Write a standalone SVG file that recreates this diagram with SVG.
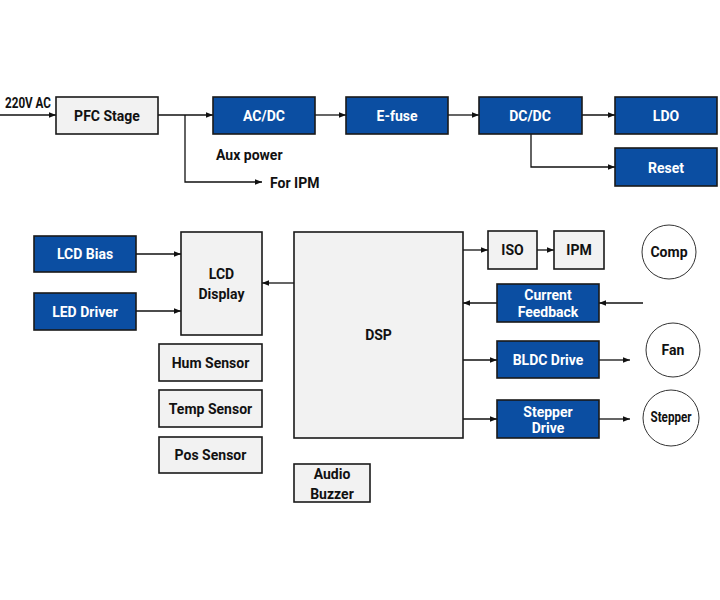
<svg xmlns="http://www.w3.org/2000/svg" width="720" height="600" viewBox="0 0 720 600">
<defs>
<marker id="ah" viewBox="0 0 10 10" refX="10" refY="5" markerWidth="7" markerHeight="7" markerUnits="userSpaceOnUse" orient="auto"><path d="M0,1 L10,5 L0,9 z" fill="#111"/></marker>
<style>
.b{fill:#0b4ea2;stroke:#1a1a1a;stroke-width:1.6}
.g{fill:#f2f2f2;stroke:#1a1a1a;stroke-width:1.6}
.c{fill:#fff;stroke:#333;stroke-width:1}
text{font-family:Roboto,"Liberation Sans",sans-serif;font-weight:bold;font-size:14px;text-anchor:middle}
.w{fill:#fff}
.k{fill:#111}
.l{text-anchor:start}
.e{fill:none;stroke:#111;stroke-width:1.3;marker-end:url(#ah)}
</style>
</defs>
<rect width="720" height="600" fill="#fff"/>
<g id="connectors">
<path class="e" d="M0,115 H56"/>
<path class="e" d="M158,115 H213"/>
<path class="e" d="M185,115 V182 H262"/>
<path class="e" d="M315,115 H346"/>
<path class="e" d="M448,115 H479"/>
<path class="e" d="M582,115 H615"/>
<path class="e" d="M531,134 V167 H615"/>
<path class="e" d="M136,254 H181"/>
<path class="e" d="M136,311 H181"/>
<path class="e" d="M294,283 H262"/>
<path class="e" d="M463,250 H488"/>
<path class="e" d="M537,250 H554"/>
<path class="e" d="M643,303 H599"/>
<path class="e" d="M497,303 H463"/>
<path class="e" d="M463,360 H497"/>
<path class="e" d="M599,360 H630"/>
<path class="e" d="M463,419 H497"/>
<path class="e" d="M599,419 H630"/>
</g>
<g id="labels">
<text class="k l" x="5" y="108" font-size="11.5" textLength="46" lengthAdjust="spacingAndGlyphs">220V AC</text>
<text class="k l" x="216" y="160">Aux power</text>
<text class="k l" x="270" y="188">For IPM</text>
</g>
<g id="pfc"><rect class="g" x="56" y="97" width="102" height="37"/><text class="k" x="107" y="120.5">PFC Stage</text></g>
<g id="acdc"><rect class="b" x="213" y="97" width="102" height="37"/><text class="w" x="264" y="120.5">AC/DC</text></g>
<g id="efuse"><rect class="b" x="346" y="97" width="102" height="37"/><text class="w" x="397" y="120.5">E-fuse</text></g>
<g id="dcdc"><rect class="b" x="479" y="97" width="103" height="37"/><text class="w" x="530" y="120.5">DC/DC</text></g>
<g id="ldo"><rect class="b" x="615" y="97" width="102" height="37"/><text class="w" x="666" y="120.5">LDO</text></g>
<g id="reset"><rect class="b" x="615" y="148" width="102" height="38"/><text class="w" x="666" y="172.5">Reset</text></g>
<g id="lcdbias"><rect class="b" x="34" y="236" width="102" height="36"/><text class="w" x="85" y="259">LCD Bias</text></g>
<g id="leddriver"><rect class="b" x="34" y="293" width="102" height="37"/><text class="w" x="85" y="316.5">LED Driver</text></g>
<g id="lcd"><rect class="g" x="181" y="232" width="81" height="103"/><text class="k" x="221.5" y="279">LCD</text><text class="k" x="221.5" y="299">Display</text></g>
<g id="dsp"><rect class="g" x="294" y="232" width="169" height="206"/><text class="k" x="378.5" y="340">DSP</text></g>
<g id="iso"><rect class="g" x="488" y="231" width="49" height="38"/><text class="k" x="512.5" y="255">ISO</text></g>
<g id="ipm"><rect class="g" x="554" y="231" width="50" height="38"/><text class="k" x="579" y="255">IPM</text></g>
<g id="comp"><circle class="c" cx="669" cy="252" r="27"/><text class="k" x="669" y="257">Comp</text></g>
<g id="curfb"><rect class="b" x="497" y="284" width="102" height="38"/><text class="w" x="548" y="300">Current</text><text class="w" x="548" y="316.5">Feedback</text></g>
<g id="bldc"><rect class="b" x="497" y="341" width="102" height="37"/><text class="w" x="548" y="365">BLDC Drive</text></g>
<g id="fan"><circle class="c" cx="673" cy="350" r="27"/><text class="k" x="673" y="355">Fan</text></g>
<g id="stepdrv"><rect class="b" x="497" y="400" width="102" height="38"/><text class="w" x="548" y="416.5">Stepper</text><text class="w" x="548" y="433">Drive</text></g>
<g id="stepper"><circle class="c" cx="671" cy="418" r="28"/><text class="k" x="671" y="422" font-size="11.5" textLength="41" lengthAdjust="spacingAndGlyphs">Stepper</text></g>
<g id="hum"><rect class="g" x="159" y="344" width="103" height="37"/><text class="k" x="210.5" y="367.5">Hum Sensor</text></g>
<g id="temp"><rect class="g" x="159" y="390" width="103" height="37"/><text class="k" x="210.5" y="413.5">Temp Sensor</text></g>
<g id="pos"><rect class="g" x="159" y="437" width="103" height="36"/><text class="k" x="210.5" y="460">Pos Sensor</text></g>
<g id="buzzer"><rect class="g" x="294" y="464" width="76" height="38"/><text class="k" x="332" y="478.5">Audio</text><text class="k" x="332" y="498.5">Buzzer</text></g>
</svg>
